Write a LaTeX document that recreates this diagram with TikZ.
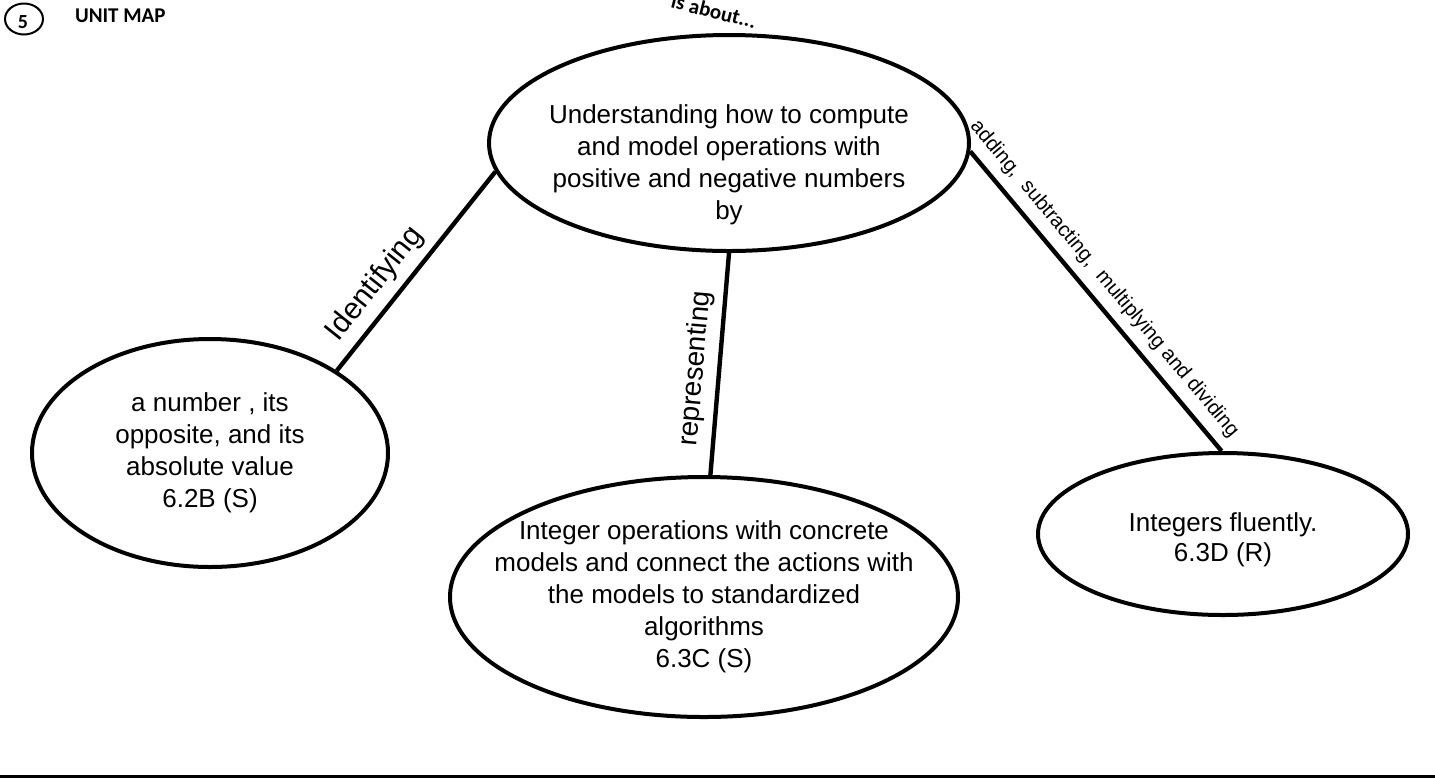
\documentclass[tikz,border=0pt]{standalone}
\usepackage{fontspec}
\setmainfont{Liberation Sans}
\newfontfamily\calibri{Carlito}
\usetikzlibrary{shapes.geometric}

\begin{document}
\begin{tikzpicture}
[x=0.5pt, y=-0.5pt,
bubble/.style={ellipse, draw, line width=2pt, inner sep=0pt},
bubbletext/.style={align=center, font=\fontsize{13}{16}\selectfont},
link/.style={line width=2.2pt},
linklabel/.style={sloped, above, inner sep=4pt}]
  \useasboundingbox (0,0) rectangle (1435,778);
  \node [ellipse, draw, line width=1pt, minimum width=19pt, minimum height=15.5pt, inner sep=0pt] (numring) at (24,19) {};
  \node [font=\calibri\bfseries\fontsize{10}{10}\selectfont] (num) at (23,22) {5};
  \node [anchor=west, font=\calibri\bfseries\fontsize{10.5}{12}\selectfont] (title) at (68,16) {UNIT MAP};
  \node [rotate=-14, font=\calibri\bfseries\fontsize{10.5}{12}\selectfont] (about) at (714,11) {is about...};
  \node [bubble, minimum width=240pt, minimum height=108pt] (main) at (729,143) {};
  \node [bubbletext] (maintext) at ([yshift=-11pt]main.center) {Understanding how to compute\\and model operations with\\positive and negative numbers\\by};
  \node [bubble, minimum width=178pt, minimum height=114pt] (value) at (210,453) {};
  \node [bubbletext] (valuetext) at (value) {a number , its\\opposite, and its\\absolute value\\6.2B (S)};
  \node [bubble, minimum width=254pt, minimum height=120pt] (model) at (704,597) {};
  \node [bubbletext] (modeltext) at (model) {Integer operations with concrete\\models and connect the actions with\\the models to standardized\\algorithms\\6.3C (S)};
  \node [bubble, minimum width=185pt, minimum height=81pt] (fluent) at (1223,534) {};
  \node [bubbletext, font=\fontsize{13}{15}\selectfont] (fluenttext) at ([yshift=-3pt]fluent.center) {Integers fluently.\\6.3D (R)};
  \draw [link] (main.187.6) -- node[linklabel, pos=0.64, font=\fontsize{15}{15}\selectfont] {Identifying} (value.33.6);
  \draw [link] (main.270.5) -- node[linklabel, pos=0.53, font=\fontsize{14}{14}\selectfont] {representing} (model.87);
  \draw [link] (main.-2) -- node[linklabel, pos=0.47, inner sep=4.5pt, font=\fontsize{10.2}{10.2}\selectfont] {adding,\ \ subtracting,\ \ multiplying and dividing} (fluent.91);
  \draw [line width=1.5pt] (0,776) -- (1435,776);
\end{tikzpicture}
\end{document}
